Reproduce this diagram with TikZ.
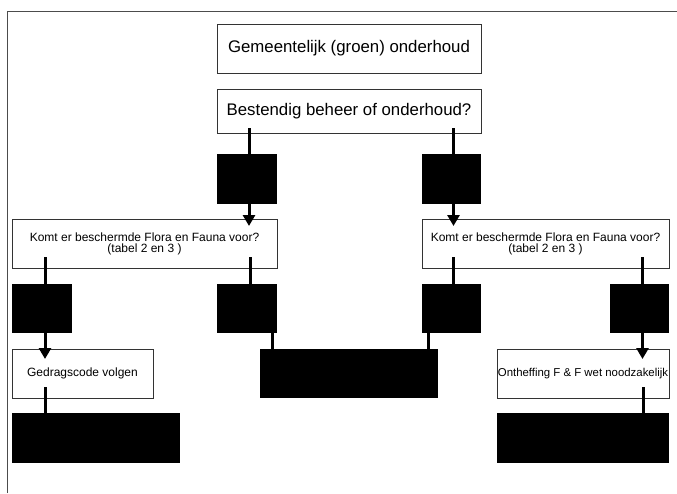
\documentclass[tikz,border=0pt]{standalone}
\usepackage{fontspec}
\setmainfont{Liberation Sans}
\usetikzlibrary{positioning,arrows.meta}

\begin{document}
\begin{tikzpicture}[x=1pt,y=-1pt,
	box/.style={draw=black!80,fill=white,line width=0.9pt,inner sep=0pt,outer sep=0pt,minimum height=49pt,align=center},
	big/.style={box,font=\fontsize{16.8}{18}\selectfont},
	small/.style={box,font=\fontsize{12}{11}\selectfont},
	blk/.style={fill=black,inner sep=0pt,outer sep=0pt,minimum height=49pt},
	stem/.style={line width=3pt,black},
	arr/.style={stem,-{Triangle[width=12pt,length=11pt]}}]
	\useasboundingbox (0,0) rectangle (677,493);
	\draw[black!70,line width=0.8pt] (7,493) -- (7,11) -- (677,11);

	\node[big,minimum width=264pt] (b1) at (349,48.5) {Gemeentelijk (groen) onderhoud};
	\node[big,minimum width=264pt,minimum height=44pt] (b2)[below=16pt of b1] {Bestendig beheer of onderhoud?};
	\node[blk,minimum width=60pt,minimum height=50pt] (j1)[below right=21pt and 0pt of b2.south west] {};
	\node[blk,minimum width=59pt,minimum height=50pt] (n1)[below left=21pt and 0pt of b2.south east] {};
	\node[small,minimum width=265pt] (q1)[below left=15pt and 0pt of j1.south east] {Komt er beschermde Flora en Fauna voor?\\(tabel 2 en 3 )};
	\node[small,minimum width=247pt] (q2)[below right=15pt and 0pt of n1.south west] {Komt er beschermde Flora en Fauna voor?\\(tabel 2 en 3 )};
	\node[blk,minimum width=60pt] (j2)[below right=16pt and 0pt of q1.south west] {};
	\node[blk,minimum width=60pt] (n2)[below left=16pt and 0pt of q1.south east] {};
	\node[blk,minimum width=59pt] (j3)[below right=16pt and 0pt of q2.south west] {};
	\node[blk,minimum width=59pt] (n3)[below left=16pt and 0pt of q2.south east] {};
	\node[small,minimum width=141pt] (code)[below right=16pt and 0pt of j2.south west] {Gedragscode volgen};
	\node[blk,minimum width=178pt,anchor=north] (mid) at ([yshift=-16pt]n2.south -| b1) {};
	\node[small,minimum width=172pt,font=\fontsize{11.4}{11}\selectfont] (onth)[below left=16pt and 0pt of n3.south east] {Ontheffing F \& F wet noodzakelijk};
	\node[blk,minimum width=168pt,minimum height=50pt] (endl)[below right=15pt and 0pt of code.south west] {};
	\node[blk,minimum width=172pt,minimum height=50pt] (endr)[below right=15pt and 0pt of onth.south west] {};

	\draw[stem,shorten <=-5pt] ([xshift=2pt]b2.south -| j1) -- ([xshift=2pt]j1.north);
	\draw[stem,shorten <=-5pt] ([xshift=2pt]b2.south -| n1) -- ([xshift=2pt]n1.north);
	\draw[arr,shorten >=-7pt] ([xshift=2pt]j1.south) -- ([xshift=2pt]j1 |- q1.north);
	\draw[arr,shorten >=-7pt] ([xshift=2pt]n1.south) -- ([xshift=2pt]n1 |- q2.north);
	\draw[stem,shorten <=-11pt] ([xshift=3pt]q1.south -| j2) -- ([xshift=3pt]j2.north);
	\draw[stem,shorten <=-11pt] ([xshift=3pt]q1.south -| n2) -- ([xshift=3pt]n2.north);
	\draw[stem,shorten <=-11pt] ([xshift=2pt]q2.south -| j3) -- ([xshift=2pt]j3.north);
	\draw[stem,shorten <=-11pt] ([xshift=3pt]q2.south -| n3) -- ([xshift=3pt]n3.north);
	\draw[arr,shorten >=-10pt] ([xshift=3pt]j2.south) -- ([xshift=3pt]j2 |- code.north);
	\draw[arr,shorten >=-10pt] ([xshift=3pt]n3.south) -- ([xshift=3pt]n3 |- onth.north);
	\draw[stem] ([xshift=-5pt]n2.south east) -- ([xshift=-5pt]n2.south east |- mid.north);
	\draw[stem] ([xshift=6pt]j3.south west) -- ([xshift=6pt]j3.south west |- mid.north);
	\draw[stem,shorten <=-11pt] ([xshift=33pt]code.south west) -- ([xshift=33pt]code.south west |- endl.north);
	\draw[stem,shorten <=-11pt] ([xshift=-26pt]onth.south east) -- ([xshift=-26pt]onth.south east |- endr.north);
\end{tikzpicture}
\end{document}
